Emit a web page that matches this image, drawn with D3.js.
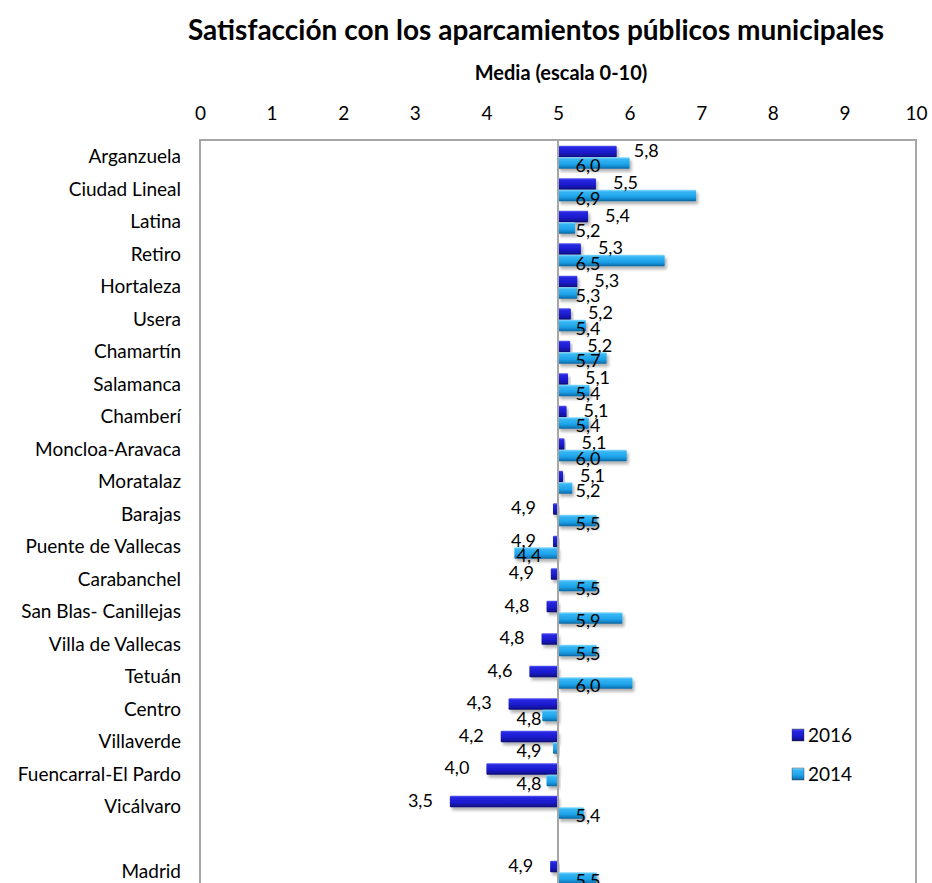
<!DOCTYPE html>
<html>
  <head>
    <meta http-equiv="Content-Type" content="text/html;charset=utf-8">
    <title>Satisfacción con los aparcamientos públicos municipales</title>
    <script type="text/javascript" src="https://d3js.org/d3.v7.min.js"></script>
    <style>
      html, body {
        margin: 0;
        padding: 0;
        background: #fff;
      }
      text {
        font-family: Lato, "DejaVu Sans", sans-serif;
        fill: #000;
      }
      .axis path,
      .axis line {
        display: none;
      }
    </style>
  </head>
  <body>
    <script type="text/javascript">

// districts, top to bottom ("" is the empty row before Madrid)
var districts = ["Arganzuela", "Ciudad Lineal", "Latina", "Retiro", "Hortaleza", "Usera",
  "Chamartín", "Salamanca", "Chamberí", "Moncloa-Aravaca", "Moratalaz", "Barajas",
  "Puente de Vallecas", "Carabanchel", "San Blas- Canillejas", "Villa de Vallecas",
  "Tetuán", "Centro", "Villaverde", "Fuencarral-El Pardo", "Vicálvaro", "", "Madrid"];

var values2016 = [5.82, 5.53, 5.42, 5.32, 5.27, 5.18, 5.17, 5.14, 5.12, 5.09, 5.07, 4.93,
  4.93, 4.90, 4.84, 4.77, 4.60, 4.31, 4.20, 4.00, 3.49, null, 4.89];

var values2014 = [6.00, 6.93, 5.24, 6.49, 5.27, 5.39, 5.68, 5.44, 5.43, 5.96, 5.20, 5.54,
  4.39, 5.54, 5.90, 5.54, 6.04, 4.78, 4.93, 4.84, 5.36, null, 5.54];

var seriesNames = ["2016", "2014"];
var xTicks = [0, 1, 2, 3, 4, 5, 6, 7, 8, 9, 10];
var baseValue = 5;

var W = 932, H = 883;
var plotLeft = 200, plotRight = 916, plotTop = 141, step = 32.5;

var svg = d3.select("body").append("svg").attr("width", W).attr("height", H);

var defs = svg.append("defs");
function grad(id, stops) {
  var g = defs.append("linearGradient").attr("id", id)
    .attr("x1", 0).attr("y1", 0).attr("x2", 0).attr("y2", 1);
  stops.forEach(function(s) {
    g.append("stop").attr("offset", s[0]).attr("stop-color", s[1]);
  });
}
grad("g2016", [[0, "#5a5af5"], [0.18, "#2626e0"], [0.6, "#1a1acb"], [0.85, "#12129c"], [1, "#0a0a6a"]]);
grad("g2014", [[0, "#8cdcff"], [0.18, "#36b6f4"], [0.6, "#1ea3ea"], [0.85, "#1180c4"], [1, "#0a5f94"]]);
var colors = {"2016": "url(#g2016)", "2014": "url(#g2014)"};

var shadow = defs.append("filter").attr("id", "shadow")
  .attr("x", "-10%").attr("y", "-30%").attr("width", "130%").attr("height", "190%");
shadow.append("feDropShadow").attr("dx", 2).attr("dy", 3).attr("stdDeviation", 1.6)
  .attr("flood-color", "#000").attr("flood-opacity", 0.3);

var x = d3.scaleLinear().domain([0, 10]).range([plotLeft, plotRight]);

var y = d3.scaleBand()
  .domain(d3.range(districts.length))
  .range([plotTop, plotTop + step * districts.length])
  .padding(0);

var ySub = d3.scaleBand()
  .domain(seriesNames)
  .range([0, y.bandwidth()])
  .paddingInner(0)
  .paddingOuter(0.4);

// title
svg.append("text")
  .attr("x", 536).attr("y", 40)
  .attr("text-anchor", "middle")
  .style("font-size", "28px").style("font-weight", "bold")
  .text("Satisfacción con los aparcamientos públicos municipales");

svg.append("text")
  .attr("x", 561).attr("y", 80)
  .attr("text-anchor", "middle")
  .style("font-size", "20px").style("font-weight", "bold")
  .text("Media (escala 0-10)");

// frame
svg.append("rect")
  .attr("x", plotLeft).attr("y", plotTop - 1)
  .attr("width", plotRight - plotLeft).attr("height", H)
  .attr("fill", "none").attr("stroke", "#a6a6a6").attr("stroke-width", 2);

// top axis
var xAxis = d3.axisTop(x).tickValues(xTicks).tickSize(0).tickPadding(0)
  .tickFormat(d3.format("d"));
svg.append("g")
  .attr("class", "axis x")
  .attr("transform", "translate(0,113)")
  .call(xAxis)
  .selectAll("text")
  .style("font-size", "19px")
  .attr("dy", "0.35em");

// category axis
var yAxis = d3.axisLeft(y).tickSize(0).tickPadding(19)
  .tickFormat(function(i) { return districts[i]; });
svg.append("g")
  .attr("class", "axis y")
  .attr("transform", "translate(" + plotLeft + ",0)")
  .call(yAxis)
  .selectAll("text")
  .style("font-size", "19px");

var rows = districts.map(function(d, i) {
  return {i: i, name: d, v: {"2016": values2016[i], "2014": values2014[i]}};
});

var flat = [];
rows.forEach(function(r) {
  seriesNames.forEach(function(s) {
    if (r.v[s] != null) flat.push({i: r.i, s: s, v: r.v[s]});
  });
});

var fmt = function(v) { return v.toFixed(1).replace(".", ","); };

// bars from the 5 baseline
svg.append("g").selectAll("rect")
  .data(flat)
  .join("rect")
  .attr("x", function(d) { return Math.min(x(baseValue), x(d.v)); })
  .attr("y", function(d) { return y(d.i) + ySub(d.s); })
  .attr("width", function(d) { return Math.abs(x(d.v) - x(baseValue)); })
  .attr("height", ySub.bandwidth())
  .attr("rx", 1)
  .attr("fill", function(d) { return colors[d.s]; })
  .attr("filter", "url(#shadow)");

// baseline at 5
svg.append("line")
  .attr("x1", x(baseValue)).attr("x2", x(baseValue))
  .attr("y1", plotTop - 1).attr("y2", H)
  .attr("stroke", "#a6a6a6").attr("stroke-width", 2);

// labels
svg.append("g").selectAll("text")
  .data(flat)
  .join("text")
  .style("font-size", "18px")
  .attr("dy", "0.35em")
  .attr("x", function(d) {
    var up = d.v >= baseValue;
    if (d.s === "2016") return x(d.v) + (up ? 17 : -17);
    return x(baseValue) + (up ? 30 : -29);
  })
  .attr("y", function(d) {
    var c = y(d.i) + ySub(d.s) + ySub.bandwidth() / 2;
    return d.s === "2016" ? c - 1 : c + 3;
  })
  .attr("text-anchor", function(d) {
    if (d.s === "2016") return d.v >= baseValue ? "start" : "end";
    return "middle";
  })
  .text(function(d) { return fmt(d.v); });

// legend
var legend = svg.append("g").selectAll("g")
  .data(seriesNames)
  .join("g")
  .attr("transform", function(d, i) { return "translate(792," + (729 + i * 39) + ")"; });
legend.append("rect")
  .attr("width", 12).attr("height", 12)
  .attr("fill", function(d) { return colors[d]; })
  .attr("stroke", "#333").attr("stroke-width", 0.4);
legend.append("text")
  .attr("x", 16).attr("y", 6).attr("dy", "0.35em")
  .style("font-size", "19px")
  .text(function(d) { return d; });

    </script>
  </body>
</html>
